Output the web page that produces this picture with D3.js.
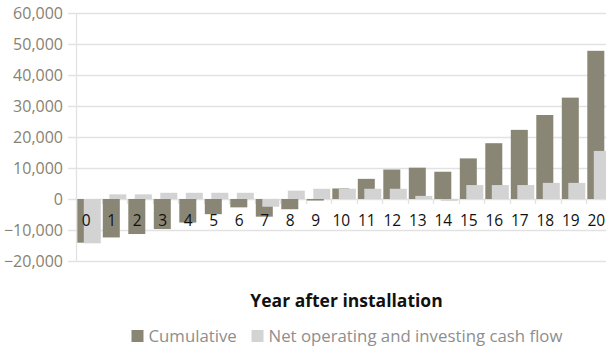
<!DOCTYPE html>
<html>
<head>
<meta charset="utf-8">
<script src="https://cdn.jsdelivr.net/npm/d3@7"></script>
<style>
  html, body { margin: 0; padding: 0; background: #fff; }
  svg { display: block; font-family: "Open Sans", "Noto Sans", sans-serif; }
</style>
</head>
<body>
<svg id="chart" width="606" height="347"></svg>
<script>
// ---- data ----
const years = ["0","1","2","3","4","5","6","7","8","9","10","11","12","13","14","15","16","17","18","19","20"];
const cumulative = [-14100, -12400, -11300, -9700, -7600, -4900, -2700, -5700, -3300, -500, 3400, 6500, 9500, 10100, 8800, 13100, 18000, 22300, 27100, 32700, 47800];
const netCashFlow = [-14300, 1500, 1500, 2000, 2000, 2000, 2000, -2500, 2700, 3300, 3300, 3300, 3300, 1000, -600, 4500, 4500, 4500, 5200, 5200, 15500];
const yTicks = [-20000, -10000, 0, 10000, 20000, 30000, 40000, 50000, 60000];
const seriesNames = ["Cumulative", "Net operating and investing cash flow"];
const xTitle = "Year after installation";

// ---- layout ----
const colors = ["#8a8676", "#d2d3d2"];
const plotLeft = 76, plotTop = 13, plotBottom = 261;
const step = 25.5;
const svg = d3.select("#chart");

const x = d3.scaleBand().domain(years).range([plotLeft, plotLeft + step * years.length]).padding(0);
const y = d3.scaleLinear().domain([-20000, 60000]).range([plotBottom, plotTop]);

// gridlines
svg.append("g").selectAll("line").data(yTicks).join("line")
  .attr("x1", plotLeft - 8).attr("x2", 606)
  .attr("y1", d => Math.round(y(d)) + 0.5).attr("y2", d => Math.round(y(d)) + 0.5)
  .attr("stroke", "#e2e2e2").attr("stroke-width", 1.3);

// left axis line
svg.append("line").attr("x1", plotLeft + 0.5).attr("x2", plotLeft + 0.5)
  .attr("y1", y(60000)).attr("y2", y(-20000))
  .attr("stroke", "#e2e2e2").attr("stroke-width", 1.3);

// y labels
svg.append("g").selectAll("text").data(yTicks).join("text")
  .attr("x", 63).attr("y", d => y(d))
  .attr("dy", "0.36em")
  .attr("text-anchor", "end")
  .attr("font-size", 16)
  .attr("fill", "#878271")
  .text(d => d3.format(",")(d));

// category ticks on zero line
svg.append("g").selectAll("line").data(years.slice(1)).join("line")
  .attr("x1", d => Math.round(x(d)) + 0.5).attr("x2", d => Math.round(x(d)) + 0.5)
  .attr("y1", y(0)).attr("y2", y(0) + 5)
  .attr("stroke", "#e2e2e2").attr("stroke-width", 1.3);

const barW = 17;
// cumulative bars
svg.append("g").selectAll("rect").data(cumulative).join("rect")
  .attr("x", (d, i) => x(years[i]) + 1.3)
  .attr("width", barW)
  .attr("y", d => y(Math.max(0, d)))
  .attr("height", d => Math.abs(y(d) - y(0)))
  .attr("fill", colors[0]);

// net cash flow bars
svg.append("g").selectAll("rect").data(netCashFlow).join("rect")
  .attr("x", (d, i) => x(years[i]) + 7.8)
  .attr("width", barW)
  .attr("y", d => y(Math.max(0, d)))
  .attr("height", d => Math.abs(y(d) - y(0)))
  .attr("fill", colors[1]);

// category labels
svg.append("g").selectAll("text").data(years).join("text")
  .attr("x", d => x(d) + 10.3)
  .attr("y", 226)
  .attr("text-anchor", "middle")
  .attr("font-size", 15.5)
  .attr("fill", "#111")
  .text(d => d);

// x title
svg.append("text")
  .attr("x", 346.5).attr("y", 306.5)
  .attr("text-anchor", "middle")
  .attr("font-size", 17.5)
  .attr("font-weight", "bold")
  .attr("fill", "#111")
  .text(xTitle);

// legend
const legendX = [131.5, 251.5];
const lg = svg.append("g");
seriesNames.forEach((name, i) => {
  lg.append("rect").attr("x", legendX[i]).attr("y", 330).attr("width", 12).attr("height", 12).attr("fill", colors[i]);
  lg.append("text").attr("x", legendX[i] + 17).attr("y", 341.5)
    .attr("font-size", 16.8).attr("fill", "#8e8e8e").text(name);
});
</script>
</body>
</html>
